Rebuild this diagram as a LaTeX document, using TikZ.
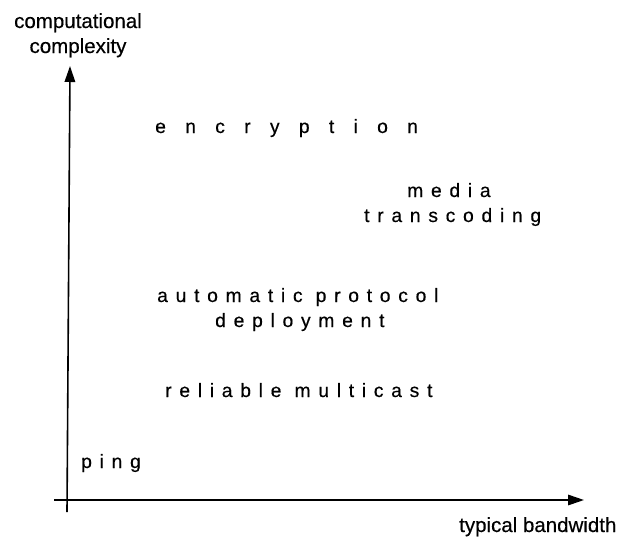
\documentclass[tikz,border=0pt]{standalone}
\usepackage{fontspec}
\setmainfont[FakeBold=0.4]{Liberation Sans}
\newfontfamily\tracked[LetterSpace=40,FakeBold=0.4]{Liberation Sans}
\newfontfamily\trackedwide[LetterSpace=100,FakeBold=0.4]{Liberation Sans}
\usetikzlibrary{arrows.meta}
\begin{document}
\begin{tikzpicture}[x=1pt,y=-1pt,
  axis/.style={line width=1.6pt, -{Triangle[length=16pt,width=10.5pt]}},
  axislabel/.style={inner sep=0pt, font=\fontsize{20.5}{25}\selectfont, align=center},
  app/.style={inner sep=0pt, anchor=base west, font=\fontsize{19.3}{25}\tracked},
  appwide/.style={inner sep=0pt, anchor=base west, font=\fontsize{19.3}{25}\trackedwide}]
  \useasboundingbox (0,0) rectangle (626,536);

  % axes
  \coordinate (ybot) at (67,512);
  \coordinate (ytop) at (70,66);
  \coordinate (xleft) at (54,500);
  \coordinate (xright) at (584,500);
  \draw[axis] (ybot) -- (ytop);
  \draw[axis] (xleft) -- (xright);

  % axis labels
  \node[axislabel, anchor=base] (ylab) at (78,53) {computational\\complexity};
  \node[axislabel, anchor=base west] (xlab) at (459,532) {typical bandwidth};

  % applications
  \node[appwide] (enc) at (155,133) {encryption};
  \node[app] (media) at (407,197) {media};
  \node[app] (trans) at (364,222) {transcoding};
  \node[app] (auto) at (157,302) {automatic protocol};
  \node[app] (depl) at (215,327) {deployment};
  \node[app] (rel) at (165,397) {reliable multicast};
  \node[app] (ping) at (81,468) {ping};
\end{tikzpicture}
\end{document}
